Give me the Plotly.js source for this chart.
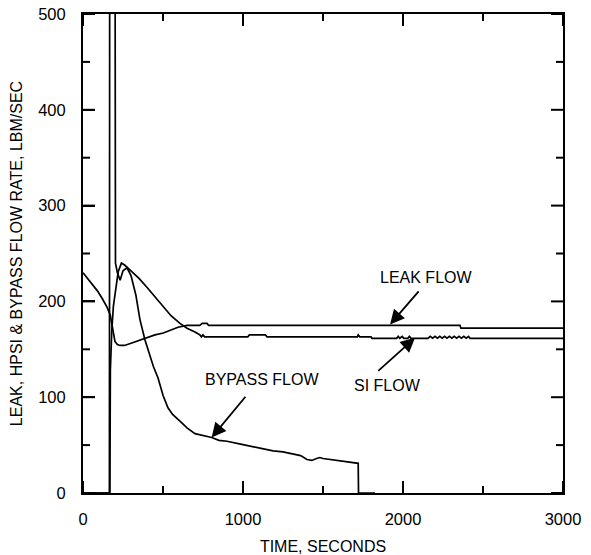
<!DOCTYPE html>
<html>
<head>
<meta charset="utf-8">
<script src="https://cdn.plot.ly/plotly-3.0.1.min.js"></script>
<style>html,body{margin:0;padding:0;background:#fff;}#chart{width:591px;height:555px;}</style>
</head>
<body>
<div id="chart"></div>
<script>
// Leak flow (lbm/sec)
const leakTime = [0, 30, 60, 90, 120, 150, 170, 185, 200, 215, 231, 260, 293, 350, 398, 450, 502, 550, 594, 650, 730, 745, 775, 785, 2356, 2362, 3000];
const leakFlow = [230, 224, 218, 211, 203, 194, 186, 170, 158, 155, 154, 154, 156, 159, 162, 165, 167, 170, 173, 175, 175, 177, 177, 175, 175, 172, 172];

// HPSI flow (lbm/sec)
const siTime = [0, 168, 171, 175, 180, 190, 205, 220, 240, 260, 293, 350, 398, 450, 502, 550, 606, 650, 700, 731, 740, 750, 760, 775, 1030, 1040, 1140, 1150, 1715, 1720, 1730, 1800, 1806,
  1960, 1970, 1980, 1995, 2005, 2030, 2040, 2050, 2065, 2156, 2170, 2185, 2200, 2215, 2230, 2245, 2260, 2275, 2290, 2305, 2320, 2335, 2350, 2365, 2380, 2395, 2410, 2419, 3000];
const siFlow = [0, 0, 128, 150, 170, 195, 216, 231, 240, 238, 233, 224, 215, 205, 194, 185, 177, 172, 168, 165, 163, 165, 163, 163, 163, 165, 165, 163, 163, 165, 163, 163, 161.5,
  161.5, 163.5, 161.5, 163.5, 161.5, 161.5, 163.5, 161.5, 161.5, 161.5, 163.5, 161.5, 163.5, 161.5, 163.5, 161.5, 163.5, 161.5, 163.5, 161.5, 163.5, 161.5, 163.5, 161.5, 163.5, 161.5, 163.5, 161.5, 161.5];

// Bypass flow (lbm/sec)
const bypassTime = [0, 165, 167, 200, 203, 215, 232, 250, 275, 300, 330, 356, 387, 420, 440, 469, 500, 531, 560, 606, 650, 700, 750, 804, 850, 900, 985, 1050, 1100, 1188, 1250, 1300, 1340, 1360, 1400, 1430, 1460, 1480, 1500, 1550, 1600, 1650, 1700, 1720, 1722, 1825];
const bypassFlow = [0, 0, 620, 620, 240, 230, 222, 232, 235, 227, 207, 181, 160, 142, 132, 120, 102, 89, 82, 75, 68, 62, 60, 58, 55, 54, 51, 49, 47, 44, 43, 41, 40, 39, 35, 34, 36, 37, 36, 35, 34, 33, 32, 31, 0, 0];

// Tick positions and labels
const xMajor = [0, 1000, 2000, 3000];
const xMinor = [500, 1500, 2500];
const yMajor = [0, 100, 200, 300, 400, 500];
const yMinor = [50, 150, 250, 350, 450];

const FONT = 'Arial, "Liberation Sans", Helvetica, sans-serif';
const TICK_FS = 16.5;
const FS = 16;
const X_RANGE = [0, 3000];
const Y_RANGE = [0, 500];
const MAJOR_LEN = 12, MINOR_LEN = 7;
const lineStyle = {color: '#000', width: 1.7, shape: 'linear'};

const traces = [
  {x: leakTime, y: leakFlow, mode: 'lines', line: lineStyle, name: 'LEAK FLOW', hoverinfo: 'skip'},
  {x: siTime, y: siFlow, mode: 'lines', line: lineStyle, name: 'SI FLOW', hoverinfo: 'skip'},
  {x: bypassTime, y: bypassFlow, mode: 'lines', line: lineStyle, name: 'BYPASS FLOW', hoverinfo: 'skip'}
];

function arrow(x, y, ax, ay) {
  return {x: x, y: y, ax: ax, ay: ay, xref: 'x', yref: 'y', axref: 'x', ayref: 'y',
    text: '', showarrow: true, arrowhead: 2, arrowsize: 1.6, arrowwidth: 1.8, arrowcolor: '#000', standoff: 0, startstandoff: 0};
}
function label(x, y, t) {
  return {x: x, y: y, xref: 'x', yref: 'y', text: t, showarrow: false, font: {family: FONT, size: FS, color: '#000'}};
}

// Inward tick marks on all four sides, placed on the axes' data scale with pixel lengths
const tickLine = {color: '#000', width: 2};
const tickShapes = [];
function xTicks(vals, len) {
  vals.forEach(v => {
    tickShapes.push({type: 'line', xref: 'x', yref: 'paper', ysizemode: 'pixel', yanchor: 0, x0: v, x1: v, y0: 0, y1: len, line: tickLine});
    tickShapes.push({type: 'line', xref: 'x', yref: 'paper', ysizemode: 'pixel', yanchor: 1, x0: v, x1: v, y0: 0, y1: -len, line: tickLine});
  });
}
function yTicks(vals, len) {
  vals.forEach(v => {
    tickShapes.push({type: 'line', yref: 'y', xref: 'paper', xsizemode: 'pixel', xanchor: 0, y0: v, y1: v, x0: 0, x1: len, line: tickLine});
    tickShapes.push({type: 'line', yref: 'y', xref: 'paper', xsizemode: 'pixel', xanchor: 1, y0: v, y1: v, x0: 0, x1: -len, line: tickLine});
  });
}
xTicks(xMajor, MAJOR_LEN); xTicks(xMinor, MINOR_LEN);
yTicks(yMajor, MAJOR_LEN); yTicks(yMinor, MINOR_LEN);

const layout = {
  width: 591, height: 555,
  margin: {l: 83, r: 28, t: 14, b: 62},
  paper_bgcolor: '#fff', plot_bgcolor: '#fff',
  showlegend: false,
  font: {family: FONT, size: FS, color: '#000'},
  xaxis: {
    range: X_RANGE, tickmode: 'array', tickvals: xMajor, ticktext: xMajor.map(String),
    ticks: 'inside', ticklen: MAJOR_LEN, tickwidth: 2, tickcolor: '#000',
    showline: true, linewidth: 2, linecolor: '#000', mirror: true,
    showgrid: false, zeroline: false, ticklabelstandoff: 10,
    tickfont: {family: FONT, size: TICK_FS, color: '#000'},
    title: {text: 'TIME, SECONDS', font: {family: FONT, size: FS}, standoff: 14}
  },
  yaxis: {
    range: Y_RANGE, tickmode: 'array', tickvals: yMajor, ticktext: yMajor.map(String),
    ticks: 'inside', ticklen: MAJOR_LEN, tickwidth: 2, tickcolor: '#000',
    showline: true, linewidth: 2, linecolor: '#000', mirror: true,
    showgrid: false, zeroline: false, ticklabelstandoff: 12,
    tickfont: {family: FONT, size: TICK_FS, color: '#000'},
    title: {text: 'LEAK, HPSI &amp; BYPASS FLOW RATE, LBM/SEC', font: {family: FONT, size: FS}, standoff: 12}
  },
  shapes: tickShapes,
  annotations: [
    label(2144, 225, 'LEAK FLOW'),
    arrow(1919, 176, 2106, 212),
    label(1900, 112, 'SI FLOW'),
    arrow(2075, 162, 1836, 126),
    label(1117, 119, 'BYPASS FLOW'),
    arrow(804, 58, 1023, 102)
  ]
};

Plotly.newPlot('chart', traces, layout, {staticPlot: true, displayModeBar: false});
</script>
</body>
</html>
